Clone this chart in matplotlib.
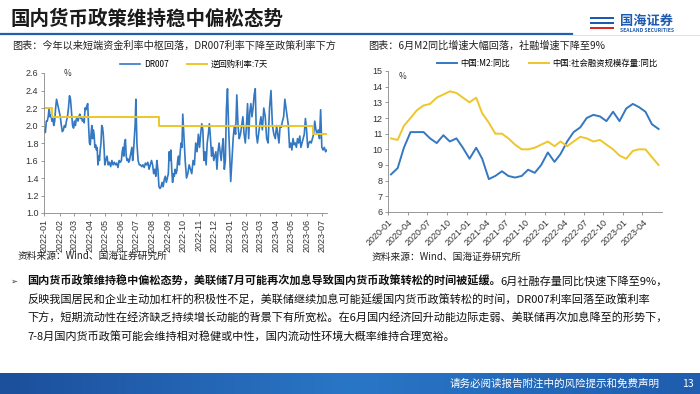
import numpy as np
import pandas as pd
import matplotlib
matplotlib.use("Agg")
import matplotlib.pyplot as plt
from matplotlib.lines import Line2D
from matplotlib.patches import Rectangle
from matplotlib.colors import LinearSegmentedColormap

plt.rcParams['font.family'] = ['Noto Sans CJK SC', 'DejaVu Sans']
plt.rcParams['axes.unicode_minus'] = False

# ---- data: DR007 daily ----
dr_months = ["2022-01", "2022-02", "2022-03", "2022-04", "2022-05", "2022-06",
             "2022-07", "2022-08", "2022-09", "2022-10", "2022-11", "2022-12",
             "2023-01", "2023-02", "2023-03", "2023-04", "2023-05", "2023-06", "2023-07"]
dr_values = [
    [1.95, 1.92, 2.05, 2.05, 2.10, 2.20, 2.10, 2.12, 2.05, 2.08, 2.00, 2.05, 2.20, 2.30, 2.25, 2.20, 2.15],
    [2.10, 2.00, 1.93, 1.95, 2.00, 1.98, 2.05, 2.10, 2.20, 2.34, 2.30, 2.15, 2.00, 1.97],
    [2.05, 2.00, 2.07, 2.10, 2.05, 2.10, 2.13, 2.08, 2.10, 2.05, 2.07, 2.03, 2.20, 2.18, 2.22, 2.25, 2.00, 1.80],
    [1.78, 1.90, 2.00, 1.85, 1.95, 1.90, 1.75, 1.78, 1.72, 1.75, 1.55, 1.65, 1.60, 1.72, 1.80, 2.00, 1.98, 1.90, 1.75, 1.55],
    [1.60, 1.65, 1.55, 1.58, 1.53, 1.60, 1.55, 1.58, 1.55, 1.57, 1.52, 1.60, 1.58],
    [1.60, 1.70, 1.75, 1.65, 1.80, 1.84, 1.65, 1.60, 1.62, 1.58, 1.60, 1.65, 1.70, 1.75, 1.60, 1.70, 1.85, 2.00, 2.30],
    [1.80, 1.60, 1.55, 1.55, 1.53, 1.55, 1.52, 1.57, 1.55, 1.58, 1.50, 1.55, 1.60],
    [1.55, 1.45, 1.50, 1.42, 1.60, 1.50, 1.30, 1.28, 1.30, 1.35, 1.30, 1.38, 1.42, 1.35, 1.40],
    [1.45, 1.70, 1.60, 1.72, 1.50, 1.35, 1.45, 1.42, 1.50, 1.45, 1.48, 1.60, 1.65, 1.55, 1.70, 1.80, 1.75, 2.13],
    [1.90, 1.60, 1.40, 1.45, 1.55, 1.50, 1.45, 1.60, 1.55, 1.80, 1.70, 1.90],
    [1.75, 1.90, 2.02, 1.95, 1.60, 1.70, 1.55, 1.80, 1.90, 2.02, 1.85, 1.65, 1.75, 1.60],
    [1.65, 1.70, 1.50, 1.70, 1.80, 1.70, 1.60, 1.75, 1.85, 1.50, 1.60, 2.20, 2.42, 2.00, 1.70],
    [1.36, 1.60, 1.85, 2.00, 1.90, 2.35, 2.00, 1.85, 1.90, 2.00, 2.10, 1.90, 1.80],
    [2.00, 2.25, 1.85, 2.15, 2.25, 2.10, 2.20, 2.35, 2.42, 1.90, 1.80, 1.90, 2.00],
    [2.10, 1.95, 2.20, 2.10, 1.85, 1.80, 2.20, 2.40, 2.00, 1.90, 1.85],
    [2.00, 1.90, 1.80, 2.00, 1.98, 2.05, 2.10, 2.30, 2.20, 2.10, 2.00, 1.75, 1.80],
    [1.72, 1.85, 1.78, 1.80, 1.75, 1.85, 1.80, 1.88, 1.75, 1.80, 1.85, 1.90, 2.08, 1.95],
    [1.75, 1.80, 1.82, 1.80, 1.85, 1.90, 2.05, 1.95, 1.90, 1.95, 1.85, 2.18, 1.75],
    [1.72, 1.75, 1.70, 1.72],
]
dr_days_in_last = 10  # July 2023 data runs to ~10th

repo_dates = ["2022-01-01", "2022-01-17", "2022-08-15", "2023-06-13", "2023-07-10"]
repo_rate = [2.2, 2.1, 2.0, 1.9, 1.9]

# ---- data: monthly M2 and TSF yoy ----
mon_dates = pd.date_range("2020-01-01", periods=42, freq="MS") + pd.Timedelta(days=14)
m2 = [8.4, 8.8, 10.1, 11.1, 11.1, 11.1, 10.7, 10.4, 10.9, 10.5, 10.7, 10.1,
      9.4, 10.1, 9.4, 8.1, 8.3, 8.6, 8.3, 8.2, 8.3, 8.7, 8.5, 9.0,
      9.8, 9.2, 9.7, 10.5, 11.1, 11.4, 12.0, 12.2, 12.1, 11.8, 12.4, 11.8,
      12.6, 12.9, 12.7, 12.4, 11.6, 11.3]
tsf = [10.7, 10.6, 11.5, 12.0, 12.5, 12.8, 12.9, 13.3, 13.5, 13.7, 13.6, 13.3,
       13.0, 13.3, 12.3, 11.7, 11.0, 11.0, 10.7, 10.3, 10.0, 10.0, 10.1, 10.3,
       10.5, 10.2, 10.5, 10.2, 10.5, 10.8, 10.7, 10.5, 10.6, 10.3, 10.0, 9.6,
       9.4, 9.9, 10.0, 10.0, 9.5, 9.0]

# spread daily readings across each month
dr_x, dr_y = [], []
for m, vals in zip(dr_months, dr_values):
    start = pd.Timestamp(m + "-01")
    span = dr_days_in_last if m == dr_months[-1] else start.days_in_month
    n = len(vals)
    for i, v in enumerate(vals):
        dr_x.append(start + pd.Timedelta(days=(i + 0.5) * span / n))
        dr_y.append(v)

W, H = 700, 394
fig = plt.figure(figsize=(7, 3.94), dpi=100)
fig.patch.set_facecolor("white")

def fx(px):
    return px / W

def fy(py):
    return 1 - py / H

BLUE = "#3378C0"
YELLOW = "#EEC62B"
DARK = "#333333"

# header
fig.text(fx(10), fy(19), "国内货币政策维持稳中偏松态势", fontsize=14, fontweight="bold",
         color="#1a1a1a", va="center", ha="left")
fig.add_artist(Line2D([0, fx(572)], [fy(34), fy(34)], color="#2060B0", lw=1.6))
fig.add_artist(Line2D([fx(572), 1], [fy(34.5), fy(34.5)], color="#dddddd", lw=0.6))

# logo
for i, c in enumerate(["#1E5BB0", "#1E5BB0", "#D62A2A"]):
    fig.add_artist(Rectangle((fx(590), fy(19 + i * 5)), fx(24), 2.2 / H, color=c, lw=0))
fig.text(fx(620), fy(21), "国海证券", fontsize=9.5, fontweight="bold", color="#1E5BB0",
         va="center", ha="left")
fig.text(fx(620), fy(30), "SEALAND SECURITIES", fontsize=3.6, fontweight="bold", color="#1E5BB0",
         va="center", ha="left")

# subtitles
fig.text(fx(12), fy(46), "图表：今年以来短端资金利率中枢回落，DR007利率下降至政策利率下方",
         fontsize=7.3, color="#222222", va="center")
fig.text(fx(368), fy(46), "图表：6月M2同比增速大幅回落，社融增速下降至9%",
         fontsize=7.3, color="#222222", va="center")

# ---- left chart ----
ax1 = fig.add_axes([fx(44), fy(213), fx(283), 140 / H])
ax1.plot(dr_x, dr_y, color=BLUE, lw=1.2, label="DR007")
ax1.plot(pd.to_datetime(repo_dates), repo_rate, color=YELLOW, lw=1.4,
         drawstyle="steps-post", label="逆回购利率:7天")
ax1.set_ylim(1.0, 2.6)
ax1.set_yticks(np.arange(1.0, 2.61, 0.2))
ax1.set_yticklabels([f"{v:.1f}" for v in np.arange(1.0, 2.61, 0.2)])
ax1.set_xlim(pd.Timestamp("2022-01-01"), pd.Timestamp("2023-07-10"))
xt = pd.to_datetime([m + "-01" for m in dr_months])
ax1.set_xticks(xt)
ax1.set_xticklabels(dr_months, rotation=90)
ax1.text(0.07, 1.03, "%", transform=ax1.transAxes, fontsize=6, color=DARK, va="top")
ax1.legend(loc="lower left", bbox_to_anchor=(0.27, 1.03), ncol=2, frameon=False,
           fontsize=6, handlelength=2.4, columnspacing=2.2, handletextpad=0.4,
           borderpad=0, borderaxespad=0)

# ---- right chart ----
ax2 = fig.add_axes([fx(388), fy(212), fx(274), 141 / H])
ax2.plot(mon_dates, m2, color=BLUE, lw=1.4, label="中国:M2:同比")
ax2.plot(mon_dates, tsf, color=YELLOW, lw=1.4, label="中国:社会融资规模存量:同比")
ax2.set_ylim(6, 15)
ax2.set_yticks(range(6, 16))
ax2.set_xlim(pd.Timestamp("2020-01-01"), pd.Timestamp("2023-07-01"))
qt = pd.date_range("2020-01-01", "2023-04-01", freq="3MS")
ax2.set_xticks(qt)
ax2.set_xticklabels([d.strftime("%Y-%m") for d in qt], rotation=45, ha="right",
                    rotation_mode="anchor")
ax2.text(0.04, 0.99, "%", transform=ax2.transAxes, fontsize=6, color=DARK, va="top")
ax2.legend(loc="lower left", bbox_to_anchor=(0.18, 1.02), ncol=2, frameon=False,
           fontsize=6, handlelength=2.4, columnspacing=2.2, handletextpad=0.4,
           borderpad=0, borderaxespad=0)

for ax in (ax1, ax2):
    for s in ("top", "right"):
        ax.spines[s].set_visible(False)
    for s in ("left", "bottom"):
        ax.spines[s].set_color("#888888")
        ax.spines[s].set_linewidth(0.6)
    ax.tick_params(labelsize=6.5, colors="#888888", labelcolor=DARK, length=2.5, width=0.6, pad=1.5)
    for lab in ax.get_xticklabels() + ax.get_yticklabels():
        lab.set_fontfamily("Liberation Sans")
    ax.set_facecolor("white")

# sources
fig.text(fx(18), fy(256), "资料来源：Wind、国海证券研究所", fontsize=7, color="#222222", va="center")
fig.text(fx(372), fy(257), "资料来源：Wind、国海证券研究所", fontsize=7, color="#222222", va="center")

# bullet paragraph
fs = 8.0
fig.text(fx(10), fy(281), "➢", fontsize=6, color="#333333", va="center",
         family=["DejaVu Sans", "Noto Sans CJK SC"])
bold_part = "国内货币政策维持稳中偏松态势，美联储7月可能再次加息导致国内货币政策转松的时间被延缓。"
t_bold = fig.text(fx(27), fy(281), bold_part, fontsize=fs, fontweight="bold", color="#111111",
                  va="center")
fig.canvas.draw()
r = fig.canvas.get_renderer()
bb = t_bold.get_window_extent(r)
fig.text(bb.x1 / fig.bbox.width, fy(281), "6月社融存量同比快速下降至9%，", fontsize=fs,
         color="#111111", va="center")
lines = [
    "反映我国居民和企业主动加杠杆的积极性不足，美联储继续加息可能延缓国内货币政策转松的时间，DR007利率回落至政策利率",
    "下方，短期流动性在经济缺乏持续增长动能的背景下有所宽松。在6月国内经济回升动能边际走弱、美联储再次加息降至的形势下，",
    "7-8月国内货币政策可能会维持相对稳健或中性，国内流动性环境大概率维持合理宽裕。",
]
for i, ln in enumerate(lines):
    fig.text(fx(27), fy(300 + i * 18.5), ln, fontsize=fs, color="#111111", va="center")

# footer bar
fax = fig.add_axes([0, 0, 1, 21 / H])
grad = np.linspace(0, 1, 256).reshape(1, -1)
cmap = LinearSegmentedColormap.from_list("foot", ["#1C4F9C", "#2A76C6", "#1F5DAE"])
fax.imshow(grad, aspect="auto", cmap=cmap, extent=[0, 1, 0, 1])
fax.set_axis_off()
fig.text(fx(660), fy(384), "请务必阅读报告附注中的风险提示和免费声明", fontsize=7.6, color="white",
         va="center", ha="right")
fig.text(fx(688), fy(384), "13", fontsize=7.6, color="white", va="center", ha="center")

fig.savefig("out.png", dpi=100)
